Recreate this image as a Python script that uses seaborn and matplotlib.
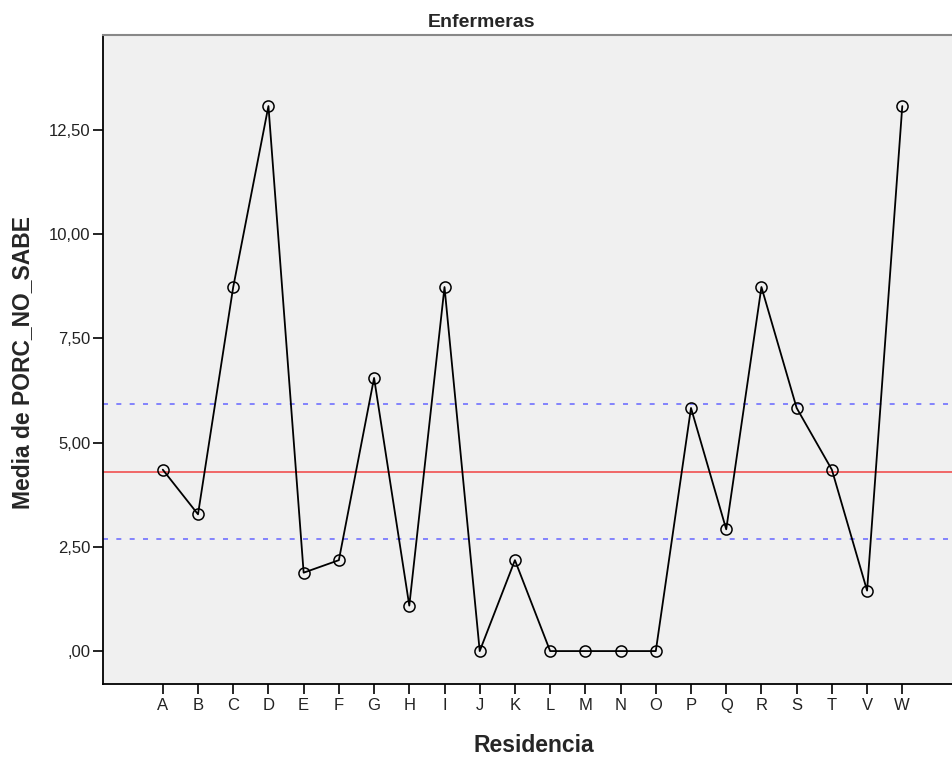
import matplotlib
matplotlib.use('Agg')
import matplotlib.pyplot as plt
import matplotlib.ticker as mticker
import seaborn as sns

# Data
residencias = ['A', 'B', 'C', 'D', 'E', 'F', 'G', 'H', 'I', 'J', 'K',
               'L', 'M', 'N', 'O', 'P', 'Q', 'R', 'S', 'T', 'V', 'W']
media_no_sabe = [4.35, 3.28, 8.73, 13.07, 1.88, 2.18, 6.55, 1.09, 8.73, 0.0, 2.18,
                 0.0, 0.0, 0.0, 0.0, 5.83, 2.92, 8.73, 5.83, 4.35, 1.45, 13.07]
linea_central = 4.30
limites = [5.93, 2.68]

sns.set_style('white')
plt.rcParams['font.family'] = ['Liberation Sans', 'DejaVu Sans']

fig = plt.figure(figsize=(9.53, 7.58), dpi=100)
ax = fig.add_axes([0.108, 0.0976, 0.892, 0.856])
ax.set_facecolor('#f0f0f0')

pos = list(range(len(residencias)))
sns.lineplot(x=pos, y=media_no_sabe, ax=ax, color='black', linewidth=1.3,
             marker='o', markersize=8, markerfacecolor='none',
             markeredgecolor='black', markeredgewidth=1.1)

ax.axhline(linea_central, color='#f05050', linewidth=1.2, zorder=1)
for lim in limites:
    ax.axhline(lim, color='#7070ff', linewidth=1.2, linestyle=(0, (3, 5)), zorder=1)

ax.set_xlim(-1.7, 22.44)
ax.set_ylim(-0.79, 14.77)
ax.set_xticks(pos)
ax.set_xticklabels(residencias)
ax.set_yticks([0, 2.5, 5, 7.5, 10, 12.5])


def fmt(v, p):
    s = f'{v:.2f}'.replace('.', ',')
    return s[1:] if s.startswith('0') else s


ax.yaxis.set_major_formatter(mticker.FuncFormatter(fmt))
ax.tick_params(axis='both', direction='out', length=7, width=1.2, color='black',
               labelsize=12, labelcolor='#222222', left=True, bottom=True)
ax.tick_params(axis='y', pad=2)
ax.tick_params(axis='x', pad=3)

for side in ['left', 'bottom']:
    ax.spines[side].set_color('black')
    ax.spines[side].set_linewidth(1.3)
ax.spines['top'].set_color('#888888')
ax.spines['top'].set_linewidth(1.5)
ax.spines['right'].set_visible(False)

fig.text(0.505, 0.9644, 'Enfermeras', fontsize=14, fontweight='bold',
         ha='center', va='baseline')
ax.set_xlabel('Residencia', fontsize=16.5, fontweight='bold', va='baseline')
ax.xaxis.set_label_coords(0.507, -0.1048)
ax.set_ylabel('Media de PORC_NO_SABE', fontsize=16.5, fontweight='bold', va='center')
ax.yaxis.set_label_coords(-0.094, 0.496)

fig.savefig('out.png', dpi=100)
